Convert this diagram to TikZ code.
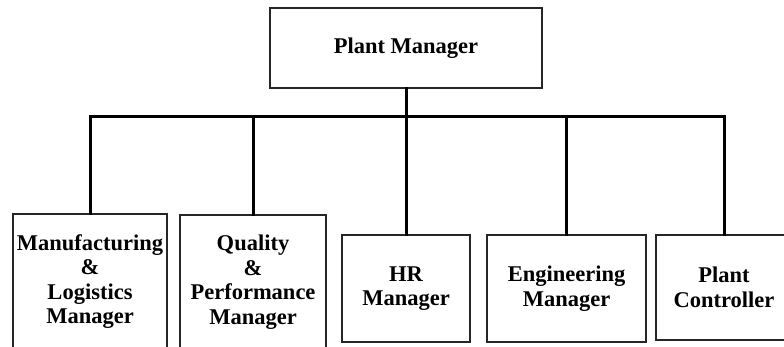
\documentclass[tikz,border=0pt]{standalone}
\usepackage{fontspec}
\setmainfont{Liberation Serif}
\begin{document}
\begin{tikzpicture}[
    x=1pt, y=-1pt,
    font=\fontsize{22.5}{24.5}\selectfont\bfseries,
    post/.style={draw=black!85, line width=1.3pt, align=center, inner sep=0pt},
    link/.style={line width=3pt, line cap=rect}
  ]

  % Picture frame
  \clip (0,0) rectangle (784,347);

  % Plant manager at the top
  \node[post, minimum width=272pt, minimum height=80pt] (top) at (406,48) {Plant Manager};

  % Reporting posts
  \node[post, minimum width=154pt, minimum height=135pt] (man) at (90,281.5) {Manufacturing\\\&\\Logistics\\Manager};
  \node[post, minimum width=146pt, minimum height=134pt] (qual) at (253,282) {Quality\\\&\\Performance\\Manager};
  \node[post, minimum width=128pt, minimum height=107pt] (hr) at (406,288.5) {HR\\Manager};
  \node[post, minimum width=159pt, minimum height=107pt] (eng) at (566.5,288.5) {Engineering\\Manager};
  \node[post, minimum width=136pt, minimum height=105pt] (ctrl) at (724,287.5) {Plant\\Controller};

  % Bus line
  \coordinate (bus) at (0,117);
  \draw[link] (top.south) -- (top.south |- bus);
  \draw[link] (man.north) |- (ctrl.north |- bus) -- (ctrl.north);
  \foreach \p in {qual, hr, eng}
    \draw[link] (\p.north) -- (\p.north |- bus);

\end{tikzpicture}
\end{document}
